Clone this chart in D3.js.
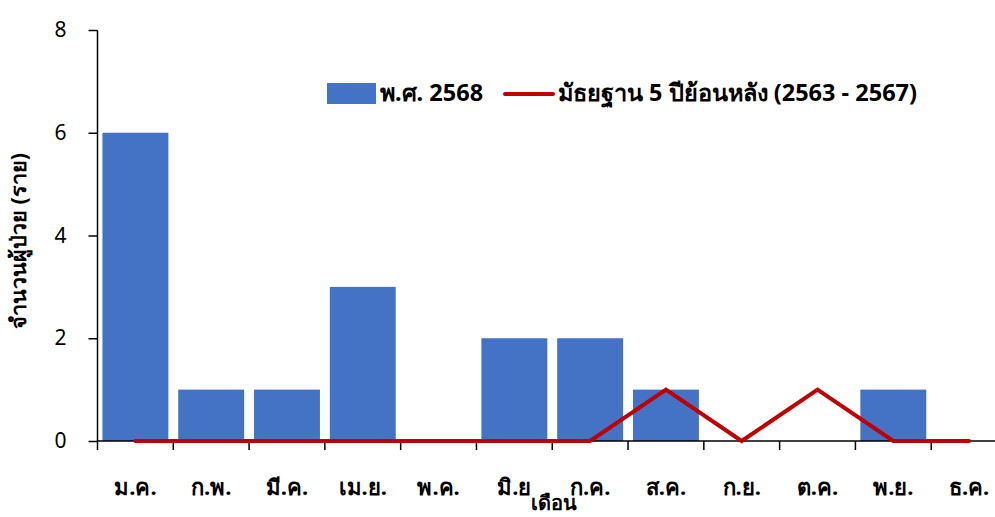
<!DOCTYPE html>
<html><head><meta charset="utf-8">
<script src="https://cdn.jsdelivr.net/npm/d3@7"></script>
<style>body{margin:0;background:#fff}svg{display:block}text{font-family:Tahoma,"Noto Sans","DejaVu Sans",sans-serif;fill:#000}</style>
</head><body><svg id="c" width="995" height="517"></svg>
<script>
const months = ["ม.ค.","ก.พ.","มี.ค.","เม.ย.","พ.ค.","มิ.ย","ก.ค.","ส.ค.","ก.ย.","ต.ค.","พ.ย.","ธ.ค."];
const cases2568 = [6,1,1,3,0,2,2,1,0,0,1,0];
const median5yr = [0,0,0,0,0,0,0,1,0,1,0,0];
const yTicks = [0,2,4,6,8];
const barLabel = "พ.ศ. 2568";
const lineLabel = "มัธยฐาน 5 ปีย้อนหลัง (2563 - 2567)";

const svg = d3.select("#c");
const x = d3.scaleBand().domain(months).range([97.5,1007]).paddingInner(0.13).paddingOuter(0.065);
const y = d3.scaleLinear().domain([0,8]).range([441,30]);

svg.append("g").selectAll("rect").data(months).join("rect")
  .attr("x",d=>x(d)).attr("width",x.bandwidth())
  .attr("y",(d,i)=>y(cases2568[i])).attr("height",(d,i)=>y(0)-y(cases2568[i]))
  .attr("fill","#4472C4");

// y axis
const ya = svg.append("g").attr("transform","translate(97.5,0)")
  .call(d3.axisLeft(y).tickValues(yTicks).tickSize(9).tickPadding(22).tickFormat(d3.format("d")));
ya.select(".domain").attr("stroke","#000").attr("stroke-width",1.5).attr("d","M0,30.5V441");
ya.selectAll(".tick line").attr("stroke","#000").attr("stroke-width",1.5);
ya.selectAll(".tick text").attr("font-size",21).attr("font-family","Tahoma,'DejaVu Sans',sans-serif");

// x axis
const xa = svg.append("g").attr("transform","translate(0,441)");
xa.append("line").attr("x1",97.5).attr("x2",995).attr("stroke","#000").attr("stroke-width",1.5);
const bounds = months.map(m=>x(m)-x.step()*0.13/2);
xa.selectAll("line.tk").data(bounds).join("line").attr("class","tk")
  .attr("x1",d=>d).attr("x2",d=>d).attr("y1",0).attr("y2",9).attr("stroke","#000").attr("stroke-width",1.5);
xa.selectAll("text").data(months).join("text")
  .attr("x",d=>x(d)+x.bandwidth()/2).attr("y",54).attr("text-anchor","middle")
  .attr("font-size",22).attr("font-weight","bold").text(d=>d);

// line
const line = d3.line().x((d,i)=>x(months[i])+x.bandwidth()/2).y(d=>y(d));
svg.append("path").datum(median5yr).attr("d",line).attr("fill","none")
  .attr("stroke","#C00000").attr("stroke-width",4).attr("stroke-linecap","round").attr("stroke-linejoin","miter");

// titles
svg.append("text").attr("transform","translate(26,241) rotate(-90)").attr("text-anchor","middle")
  .attr("font-size",21.5).attr("font-weight","bold").text("จำนวนผู้ป่วย (ราย)");
svg.append("text").attr("x",554).attr("y",510).attr("text-anchor","middle")
  .attr("font-size",20).attr("font-weight","bold").text("เดือน");

// legend
const lg = svg.append("g");
lg.append("rect").attr("x",327).attr("y",83).attr("width",49).attr("height",21).attr("fill","#4472C4");
lg.append("text").attr("x",380).attr("y",101).attr("font-size",23.5).attr("font-weight","bold").text(barLabel);
lg.append("line").attr("x1",505).attr("x2",553).attr("y1",94).attr("y2",94).attr("stroke","#C00000").attr("stroke-width",4).attr("stroke-linecap","round");
lg.append("text").attr("x",558).attr("y",101).attr("font-size",23.5).attr("font-weight","bold").text(lineLabel);
</script></body></html>
